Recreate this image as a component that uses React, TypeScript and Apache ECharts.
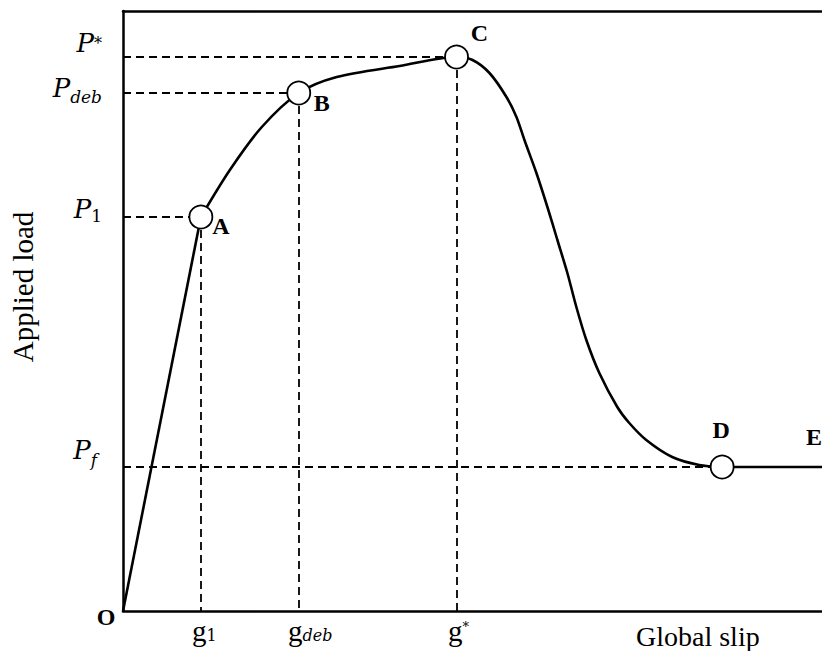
import { useEffect, useRef } from 'react';
import * as echarts from 'echarts';

// Load–slip curve (slip and load in plot units)
const curveSlip = [0, 78, 107, 139, 176, 214, 277, 334, 350, 367, 384, 394, 402, 414, 425, 435, 445, 454, 464, 477, 495, 507, 524, 550, 577, 600, 700];
const curveLoad = [0, 394, 441, 484, 518, 534, 545, 554, 551, 538, 514, 494, 471, 438, 404, 371, 338, 304, 271, 238, 204, 188, 171, 154, 146, 144, 144];

// Characteristic points of the curve
const pointNames = ['O', 'A', 'B', 'C', 'D', 'E'];
const pointSlip = [0, 78, 176, 334, 600, 700];
const pointLoad = [0, 394, 518, 554, 144, 144];

// Axis labels placed at the characteristic values
const loadTickPoints = ['D', 'A', 'B', 'C'];
const loadTickLabels = ['{pf|P}{f|f}', '{p1|P}{one|1}', '{pd|P}{deb|deb}', '{ps|P}{star|*}'];
const slipTickPoints = ['A', 'B', 'C'];
const slipTickLabels = ['{g1|g}{s1|1}', '{gd|g}{sdeb|deb}', '{gs|g}{sstar|*}'];

const MATH_FONT = 'DejaVu Serif';
const TEXT_FONT = 'Liberation Serif';

const labelOffsets: Record<string, [number, number]> = {
  O: [-17, 6],
  A: [20, 9],
  B: [23, 10],
  C: [23, -24],
  D: [-1, -37],
  E: [-8, -30],
};

const idx = (name: string) => pointNames.indexOf(name);

export default function App() {
  const ref = useRef<HTMLDivElement>(null);

  useEffect(() => {
    if (!ref.current) return;
    const chart = echarts.init(ref.current, undefined, { renderer: 'svg' });

    const aIdx = curveSlip.indexOf(pointSlip[idx('A')]);
    const dIdx = curveSlip.indexOf(pointSlip[idx('D')]);
    const pairs = curveSlip.map((x, i) => [x, curveLoad[i]]);

    const loadTickValues = loadTickPoints.map((n) => pointLoad[idx(n)]);
    const slipTickValues = slipTickPoints.map((n) => pointSlip[idx(n)]);

    const guideLines: any[] = [];
    ['A', 'B', 'C', 'D'].forEach((n) => {
      const i = idx(n);
      guideLines.push([{ coord: [0, pointLoad[i]] }, { coord: [pointSlip[i], pointLoad[i]] }]);
    });
    ['A', 'B', 'C'].forEach((n) => {
      const i = idx(n);
      guideLines.push([{ coord: [pointSlip[i], pointLoad[i]] }, { coord: [pointSlip[i], 0] }]);
    });

    const curveStyle = { color: '#000', width: 2.6 };

    const rich = (family: string, size: number, italic: boolean, padding: number[]) => ({
      fontFamily: family,
      fontSize: size,
      fontStyle: italic ? 'italic' : 'normal',
      color: '#000',
      padding,
    });

    chart.setOption({
      animation: false,
      backgroundColor: '#fff',
      grid: { left: 123, top: 11, width: 700, height: 600, containLabel: false },
      xAxis: [
        {
          type: 'value',
          min: 0,
          max: 700,
          axisLine: { show: true, lineStyle: { color: '#000', width: 2.5 } },
          axisTick: { show: false },
          splitLine: { show: false },
          axisLabel: {
            customValues: slipTickValues,
            margin: 5,
            formatter: (v: number) => slipTickLabels[slipTickValues.indexOf(v)] ?? '',
            rich: {
              g1: rich(TEXT_FONT, 29, false, [0, 0, 0, 7]),
              s1: rich(MATH_FONT, 16, false, [9, 0, 0, 0]),
              gd: rich(TEXT_FONT, 29, false, [0, 0, 0, 23]),
              sdeb: rich(MATH_FONT, 16, true, [9, 0, 0, 0]),
              gs: rich(TEXT_FONT, 29, false, [0, 0, 0, 4]),
              sstar: rich(MATH_FONT, 13, false, [0, 0, 8, 0]),
            },
          },
        },
        {
          type: 'value',
          position: 'top',
          min: 0,
          max: 700,
          axisLine: { show: true, lineStyle: { color: '#000', width: 2.5 } },
          axisTick: { show: false },
          axisLabel: { show: false },
          splitLine: { show: false },
        },
      ],
      yAxis: {
        type: 'value',
        min: 0,
        max: 600,
        axisLine: { show: true, lineStyle: { color: '#000', width: 2.5 } },
        axisTick: { show: false },
        splitLine: { show: false },
        axisLabel: {
          customValues: loadTickValues,
          margin: 21,
          align: 'right',
          verticalAlign: 'middle',
          formatter: (v: number) => loadTickLabels[loadTickValues.indexOf(v)] ?? '',
          rich: {
            ps: rich(MATH_FONT, 26, true, [0, 0, 28, 0]),
            star: rich(MATH_FONT, 16, false, [0, 0, 28, 0]),
            pd: rich(MATH_FONT, 26, true, [0, 0, 10, 0]),
            deb: rich(MATH_FONT, 17, true, [8, 0, 0, 0]),
            p1: rich(MATH_FONT, 26, true, [0, 0, 16, 0]),
            one: rich(MATH_FONT, 17, false, [0, 0, 2, 0]),
            pf: rich(MATH_FONT, 26, true, [0, 0, 34, 0]),
            f: rich(MATH_FONT, 17, true, [0, 5, 14, 0]),
          },
        },
      },
      graphic: [
        {
          type: 'text',
          x: 636,
          y: 636,
          style: {
            text: 'Global slip',
            font: `28px "${TEXT_FONT}", serif`,
            fill: '#000',
            align: 'left',
            verticalAlign: 'middle',
          },
        },
        {
          type: 'text',
          x: 23,
          y: 287,
          rotation: Math.PI / 2,
          style: {
            text: 'Applied load',
            font: `29px "${TEXT_FONT}", serif`,
            fill: '#000',
            align: 'center',
            verticalAlign: 'middle',
          },
        },
      ],
      series: [
        {
          name: 'elastic',
          type: 'line',
          data: pairs.slice(0, aIdx + 1),
          symbol: 'none',
          lineStyle: curveStyle,
          z: 3,
          markLine: {
            silent: true,
            symbol: ['none', 'none'],
            label: { show: false },
            lineStyle: { type: [8, 5], width: 1.8, color: '#000' },
            data: guideLines,
          },
        },
        {
          name: 'softening',
          type: 'line',
          data: pairs.slice(aIdx, dIdx + 1),
          symbol: 'none',
          smooth: 0.3,
          lineStyle: curveStyle,
          z: 3,
        },
        {
          name: 'friction',
          type: 'line',
          data: pairs.slice(dIdx),
          symbol: 'none',
          lineStyle: curveStyle,
          z: 3,
        },
        {
          name: 'points',
          type: 'scatter',
          z: 6,
          symbol: 'circle',
          itemStyle: { color: '#fff', borderColor: '#000', borderWidth: 1.8, opacity: 1 },
          data: pointNames.map((n, i) => ({
            name: n,
            value: [pointSlip[i], pointLoad[i]],
            symbolSize: n === 'O' || n === 'E' ? 0 : 23,
            label: { offset: labelOffsets[n] },
          })),
          label: {
            show: true,
            position: 'inside',
            formatter: '{b}',
            fontFamily: TEXT_FONT,
            fontWeight: 'bold',
            fontSize: 24,
            color: '#000',
          },
        },
      ],
    });

    return () => chart.dispose();
  }, []);

  return (
    <div
      ref={ref}
      style={{ position: 'fixed', left: 0, top: 0, width: 822, height: 651, background: '#fff' }}
    />
  );
}
